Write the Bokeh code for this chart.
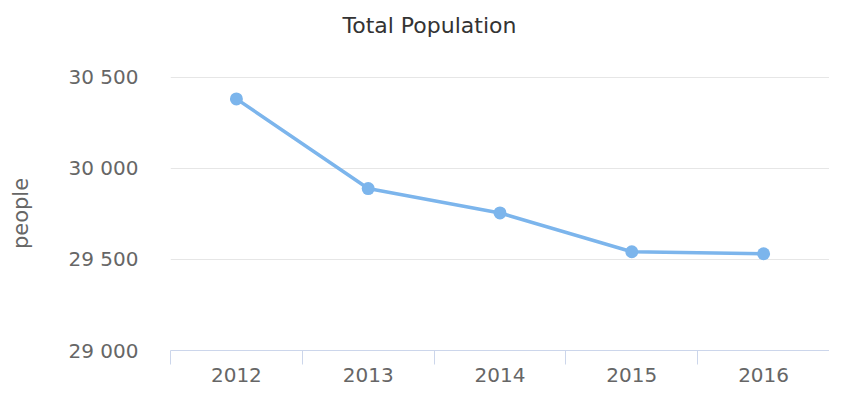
from bokeh.plotting import figure
from bokeh.models import Range1d, FixedTicker, Title
from bokeh.embed import file_html
from bokeh.resources import INLINE

years = [2012, 2013, 2014, 2015, 2016]
population = [30381, 29889, 29755, 29542, 29531]
y_ticks = [29000, 29500, 30000, 30500]
y_tick_labels = ["29 000", "29 500", "30 000", "30 500"]

FONT = "DejaVu Sans"

p = figure(width=829, height=391, output_backend="svg", toolbar_location=None,
           x_range=Range1d(years[0] - 0.5, years[-1] + 0.5),
           y_range=Range1d(y_ticks[0], y_ticks[-1] + 4),
           min_border_left=170, min_border_right=0, min_border_top=76,
           min_border_bottom=41)
p.outline_line_color = None
p.background_fill_color = "white"
p.border_fill_color = "white"

# spacer between the title and the plot frame
p.add_layout(Title(text=" ", text_font_size="10px", standoff=12), "above")

p.title = Title(text="Total Population", align="left", offset=172, standoff=23,
                vertical_align="top",
                text_font=FONT, text_font_size="22px", text_color="#333333",
                text_font_style="normal")

p.xgrid.visible = False
p.ygrid.grid_line_color = "#e6e6e6"
p.ygrid.grid_line_width = 1

xa = p.xaxis[0]
xa.ticker = FixedTicker(ticks=years,
                        minor_ticks=[y - 0.5 for y in years] + [years[-1] + 0.5])
xa.major_label_overrides = {y: str(y) for y in years}
xa.axis_line_color = "#ccd6eb"
xa.axis_line_width = 1
xa.major_tick_line_color = None
xa.major_tick_out = 0
xa.major_tick_in = 0
xa.minor_tick_line_color = "#ccd6eb"
xa.minor_tick_line_width = 1
xa.minor_tick_out = 14
xa.minor_tick_in = 0
xa.major_label_standoff = 3
xa.major_label_text_font = FONT
xa.major_label_text_font_size = "20px"
xa.major_label_text_color = "#666666"

ya = p.yaxis[0]
ya.ticker = FixedTicker(ticks=y_ticks, minor_ticks=[])
ya.major_label_overrides = dict(zip(y_ticks, y_tick_labels))
ya.axis_line_color = None
ya.major_tick_line_color = None
ya.minor_tick_line_color = None
ya.major_tick_out = 0
ya.major_tick_in = 0
ya.major_label_standoff = 32
ya.major_label_text_font = FONT
ya.major_label_text_font_size = "20px"
ya.major_label_text_color = "#666666"
ya.axis_label = "people"
ya.axis_label_standoff = 33
ya.axis_label_text_font = FONT
ya.axis_label_text_font_size = "21px"
ya.axis_label_text_font_style = "normal"
ya.axis_label_text_color = "#666666"

p.line(years, population, line_color="#7cb5ec", line_width=3.5)
p.scatter(years, population, size=13, fill_color="#7cb5ec", line_color=None)

open("out.html", "w").write(file_html(p, INLINE))
